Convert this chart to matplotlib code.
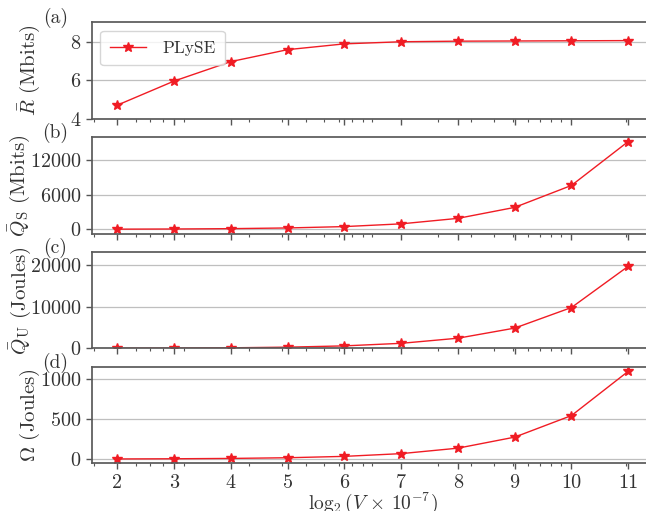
import numpy as np
import matplotlib
matplotlib.use("Agg")
import matplotlib.pyplot as plt
from matplotlib.ticker import NullFormatter

# log2(V x 1e-7) on the x axis
k = [2, 3, 4, 5, 6, 7, 8, 9, 10, 11]
rate = [4.70, 5.95, 6.96, 7.58, 7.88, 7.99, 8.02, 8.03, 8.04, 8.05]
q_s = [30, 60, 120, 240, 475, 950, 1900, 3800, 7600, 15200]
q_u = [38, 76, 152, 305, 610, 1220, 2440, 4850, 9760, 19600]
omega = [2.1, 4.3, 8.5, 17, 34, 68, 136, 273, 541, 1091]

ylabels = [r"$\bar{R}$ (Mbits)", r"$\bar{Q}_{\mathrm{S}}$ (Mbits)",
           r"$\bar{Q}_{\mathrm{U}}$ (Joules)", r"$\Omega$ (Joules)"]
panel_tags = ["(a)", "(b)", "(c)", "(d)"]
yticks = [[4, 6, 8], [0, 6000, 12000], [0, 10000, 20000], [0, 500, 1000]]
label_x = [-0.088, -0.106, -0.104, -0.088]

plt.rcParams.update({
    "font.family": "serif",
    "font.serif": ["cmr10"],
    "mathtext.fontset": "cm",
    "axes.formatter.use_mathtext": True,
    "font.size": 14,
    "text.color": "#333333",
    "axes.labelcolor": "#333333",
    "xtick.color": "#555555",
    "ytick.color": "#555555",
    "xtick.labelcolor": "#333333",
    "ytick.labelcolor": "#333333",
})

fig, axes = plt.subplots(4, 1, sharex=True, figsize=(6.46, 5.11), dpi=100)
fig.subplots_adjust(left=0.142, right=1.012, top=0.9564, bottom=0.0933, hspace=0.192)

xv = [2.0 ** v for v in k]
series = [rate, q_s, q_u, omega]
for i, (ax, ys) in enumerate(zip(axes, series)):
    ax.plot(xv, ys, color="#f01c24", lw=1.0, marker="*", ms=7, label="PLySE")
    ax.set_xscale("log")
    ax.set_ylabel(ylabels[i], fontsize=15)
    ax.yaxis.set_label_coords(label_x[i], 0.5)
    ax.set_yticks(yticks[i])
    ax.grid(axis="y", color="#bfbfbf", lw=0.9)
    ax.set_axisbelow(True)
    for s in ax.spines.values():
        s.set_color("#5a5a5a")
        s.set_linewidth(1.25)
    ax.tick_params(axis="both", which="major", length=4.5, width=1.0, labelsize=14.5)
    ax.tick_params(axis="y", pad=3)
    ax.tick_params(axis="x", pad=3)
    ax.tick_params(axis="x", which="minor", length=2.5, width=0.8)
    ax.xaxis.set_minor_formatter(NullFormatter())
    ax.text(-0.065, 1.045, panel_tags[i], transform=ax.transAxes,
            ha="center", va="center", fontsize=14)

axes[0].set_ylim(4, 9)
axes[2].set_ylim(0, 23000)
axes[0].legend(loc="upper left", fontsize=12.5, handlelength=2.1,
               handletextpad=0.9, borderpad=0.55)

axes[-1].set_xticks(xv, [str(v) for v in k])
axes[-1].xaxis.set_minor_formatter(NullFormatter())
axes[-1].set_xlabel(r"$\log_2(V\,\times\,10^{-7})$", fontsize=14, labelpad=-0.5)

fig.savefig("out.png", dpi=100)
